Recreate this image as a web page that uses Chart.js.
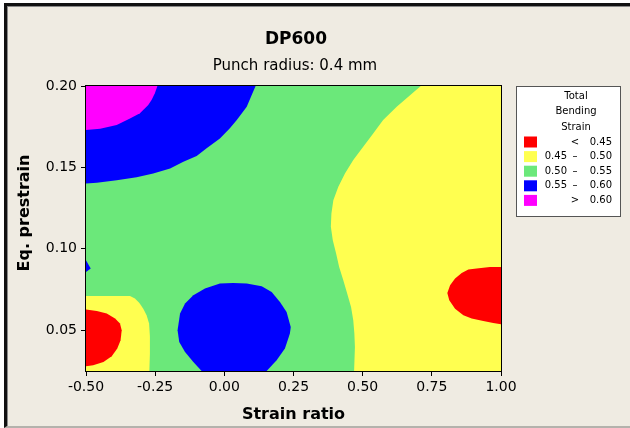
<!DOCTYPE html>
<html>
<head>
<meta charset="utf-8">
<script src="https://cdn.jsdelivr.net/npm/chart.js@4.4.1/dist/chart.umd.min.js"></script>
<style>
  body { margin: 0; background: #fff; }
  #frame {
    position: absolute; left: 4px; top: 3px; width: 626px; height: 425px;
    box-sizing: border-box; background: #efebe2;
    border-left: 3px solid #111; border-top: 3px solid #111; border-bottom: 2px solid #b4b2ac;
    box-shadow: inset 1px 1px 0 #8a8a8a;
  }
  #contour { position: absolute; left: 0; top: 0; }
</style>
</head>
<body>
<div id="frame"></div>
<canvas id="contour" width="630" height="428"></canvas>
<script>
// axis ranges and ticks
const xRange = [-0.5, 1.0];
const yRange = [0.025, 0.20];
const xTicks = [-0.5, -0.25, 0, 0.25, 0.5, 0.75, 1.0];
const yTicks = [0.05, 0.10, 0.15, 0.20];

// contour levels and band colours (low -> high)
const levels = [0.45, 0.50, 0.55, 0.60];
const bandColors = ['#ff0000', '#ffff50', '#6be87a', '#0000ff', '#ff00ff'];

// region outlines, strain ratio (x) vs eq. prestrain (y)
const greenX = [-0.5, 1.0, 1.0, -0.5];
const greenY = [0.025, 0.025, 0.20, 0.20];

const yellowRightX = [0.710, 0.623, 0.574, 0.538, 0.502, 0.466, 0.436, 0.412, 0.394, 0.387, 0.385, 0.392, 0.404, 0.415, 0.430, 0.444, 0.458, 0.466, 0.470, 0.472, 0.469, 1.0, 1.0];
const yellowRightY = [0.200, 0.1873, 0.1791, 0.1709, 0.1627, 0.1545, 0.1463, 0.1381, 0.1299, 0.1217, 0.1135, 0.1053, 0.0972, 0.0889, 0.0807, 0.0726, 0.0643, 0.0562, 0.0480, 0.0397, 0.025, 0.025, 0.200];

const redRightX = [1.0, 0.960, 0.912, 0.882, 0.858, 0.834, 0.816, 0.806, 0.813, 0.834, 0.864, 0.894, 0.936, 0.972, 1.0];
const redRightY = [0.0889, 0.0889, 0.0879, 0.0873, 0.0852, 0.0818, 0.0777, 0.0729, 0.0684, 0.0633, 0.0592, 0.0572, 0.0557, 0.0545, 0.0537];

const yellowLeftX = [-0.5, -0.341, -0.323, -0.307, -0.293, -0.281, -0.272, -0.269, -0.269, -0.271, -0.5];
const yellowLeftY = [0.0711, 0.0711, 0.0695, 0.0668, 0.0633, 0.0592, 0.0541, 0.0459, 0.0357, 0.025, 0.025];

const redLeftX = [-0.5, -0.461, -0.425, -0.395, -0.377, -0.371, -0.375, -0.387, -0.407, -0.437, -0.474, -0.5];
const redLeftY = [0.0627, 0.0619, 0.0603, 0.0572, 0.0541, 0.0500, 0.0439, 0.0388, 0.0340, 0.0305, 0.0285, 0.0279];

const blueTopX = [0.113, 0.099, 0.081, 0.045, 0.020, -0.016, -0.064, -0.100, -0.148, -0.196, -0.257, -0.317, -0.389, -0.461, -0.5, -0.5];
const blueTopY = [0.200, 0.1945, 0.1873, 0.1791, 0.1740, 0.1678, 0.1617, 0.1570, 0.1535, 0.1494, 0.1463, 0.1439, 0.1422, 0.1406, 0.1402, 0.200];

const magentaX = [-0.242, -0.251, -0.263, -0.275, -0.305, -0.341, -0.389, -0.449, -0.5, -0.5];
const magentaY = [0.200, 0.1955, 0.1914, 0.1883, 0.1832, 0.1801, 0.1760, 0.1738, 0.1730, 0.200];

const blueCircleX = [0.032, -0.016, -0.070, -0.112, -0.142, -0.160, -0.169, -0.163, -0.142, -0.112, -0.082, 0.153, 0.189, 0.219, 0.237, 0.240, 0.225, 0.201, 0.171, 0.135, 0.081];
const blueCircleY = [0.0791, 0.0787, 0.0756, 0.0715, 0.0664, 0.0603, 0.0500, 0.0428, 0.0367, 0.0305, 0.025, 0.025, 0.0316, 0.0388, 0.0480, 0.0520, 0.0613, 0.0674, 0.0735, 0.0770, 0.0787];

const blueSpotX = [-0.5, -0.483, -0.5];
const blueSpotY = [0.0930, 0.0879, 0.0858];

const titleText = 'DP600';
const subtitleText = 'Punch radius: 0.4 mm';
const xTitle = 'Strain ratio';
const yTitle = 'Eq. prestrain';
const legendTitle = ['Total', 'Bending', 'Strain'];

const FONT = "'DejaVu Sans', Verdana, sans-serif";

function toPoints(xs, ys) {
  return xs.map((x, i) => ({ x: x, y: ys[i] }));
}

// band index: 0 red, 1 yellow, 2 green, 3 blue, 4 magenta
const regions = [
  [greenX, greenY, 2],
  [yellowRightX, yellowRightY, 1],
  [redRightX, redRightY, 0],
  [yellowLeftX, yellowLeftY, 1],
  [redLeftX, redLeftY, 0],
  [blueTopX, blueTopY, 3],
  [magentaX, magentaY, 4],
  [blueCircleX, blueCircleY, 3],
  [blueSpotX, blueSpotY, 3]
];

const datasets = regions.map((r, i) => ({
  data: toPoints(r[0], r[1]),
  backgroundColor: bandColors[r[2]],
  borderWidth: 0,
  pointRadius: 0,
  showLine: false,
  order: regions.length - i
}));

// fills each dataset as a closed polygon from its scaled points
const regionFill = {
  id: 'regionFill',
  beforeDatasetDraw(chart, args) {
    const ctx = chart.ctx;
    const a = chart.chartArea;
    const pts = args.meta.data;
    ctx.save();
    ctx.beginPath();
    ctx.rect(a.left, a.top, a.right - a.left, a.bottom - a.top);
    ctx.clip();
    ctx.beginPath();
    pts.forEach((p, i) => {
      if (i === 0) ctx.moveTo(p.x, p.y);
      else ctx.lineTo(p.x, p.y);
    });
    ctx.closePath();
    ctx.fillStyle = chart.data.datasets[args.index].backgroundColor;
    ctx.fill();
    ctx.restore();
  }
};

// plot frame, titles and the level legend
const decorations = {
  id: 'decorations',
  afterDraw(chart) {
    const ctx = chart.ctx;
    const a = chart.chartArea;
    ctx.save();
    ctx.strokeStyle = '#000';
    ctx.lineWidth = 1;
    ctx.strokeRect(a.left - 0.5, a.top - 0.5, a.right - a.left + 1, a.bottom - a.top + 1);

    ctx.fillStyle = '#000';
    ctx.textAlign = 'center';
    ctx.textBaseline = 'middle';
    ctx.font = 'bold 17px ' + FONT;
    ctx.fillText(titleText, 296, 40);
    ctx.font = '15px ' + FONT;
    ctx.fillText(subtitleText, 295, 66);

    ctx.font = 'bold 16px ' + FONT;
    ctx.fillText(xTitle, (a.left + a.right) / 2, 415);
    ctx.save();
    ctx.translate(25, 213);
    ctx.rotate(-Math.PI / 2);
    ctx.fillText(yTitle, 0, 0);
    ctx.restore();

    // legend box
    const bx = 516, by = 86, bw = 104, bh = 130;
    ctx.fillStyle = '#fff';
    ctx.fillRect(bx, by, bw, bh);
    ctx.strokeStyle = '#555';
    ctx.strokeRect(bx + 0.5, by + 0.5, bw, bh);

    ctx.fillStyle = '#000';
    ctx.font = '10px ' + FONT;
    legendTitle.forEach((t, i) => ctx.fillText(t, 576, 96 + i * 15.5));

    for (let i = 0; i < bandColors.length; i++) {
      const cy = 142 + i * 14.6;
      ctx.fillStyle = bandColors[i];
      ctx.fillRect(524, cy - 5.5, 13, 11);
      ctx.fillStyle = '#000';
      let low = '', sym = '\u2013', high;
      if (i === 0) { sym = '<'; high = levels[0]; }
      else if (i === levels.length) { sym = '>'; high = levels[levels.length - 1]; }
      else { low = levels[i - 1].toFixed(2); high = levels[i]; }
      ctx.textAlign = 'right';
      if (low) ctx.fillText(low, 567, cy);
      ctx.fillText(high.toFixed(2), 612, cy);
      ctx.textAlign = 'center';
      ctx.fillText(sym, 575, cy);
    }
    ctx.restore();
  }
};

Chart.defaults.font.family = FONT;
Chart.defaults.color = '#000';

new Chart(document.getElementById('contour'), {
  type: 'line',
  data: { datasets: datasets },
  plugins: [regionFill, decorations],
  options: {
    responsive: false,
    animation: false,
    events: [],
    layout: { padding: { top: 86, right: 129, left: 0, bottom: 0 } },
    plugins: {
      legend: { display: false },
      tooltip: { enabled: false }
    },
    scales: {
      x: {
        type: 'linear',
        min: xRange[0],
        max: xRange[1],
        afterFit: (scale) => { scale.height = 57; },
        afterBuildTicks: (scale) => { scale.ticks = xTicks.map(v => ({ value: v })); },
        ticks: {
          font: { size: 14 },
          padding: 3,
          maxRotation: 0,
          callback: (v) => Number(v).toFixed(2)
        },
        grid: { drawOnChartArea: false, tickLength: 5, color: '#000' },
        border: { display: true, color: '#000' }
      },
      y: {
        type: 'linear',
        min: yRange[0],
        max: yRange[1],
        afterFit: (scale) => { scale.width = 86; },
        afterBuildTicks: (scale) => { scale.ticks = yTicks.map(v => ({ value: v })); },
        ticks: {
          font: { size: 14 },
          padding: 4,
          callback: (v) => Number(v).toFixed(2)
        },
        grid: { drawOnChartArea: false, tickLength: 5, color: '#000' },
        border: { display: true, color: '#000' }
      }
    }
  }
});
</script>
</body>
</html>
